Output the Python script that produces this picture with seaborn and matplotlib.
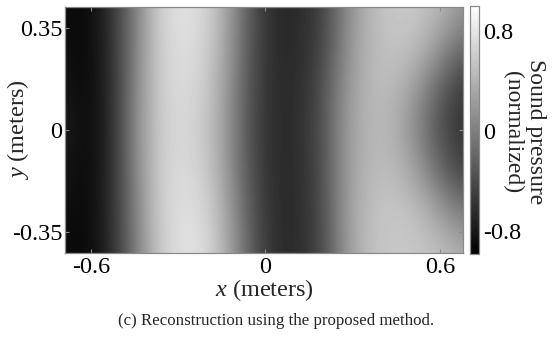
import numpy as np
import matplotlib
matplotlib.use("Agg")
import matplotlib.pyplot as plt
import seaborn as sns

# ---- data ----
x_samples = [-0.690, -0.609, -0.529, -0.448, -0.368, -0.287, -0.206, -0.126, -0.045,
             0.035, 0.116, 0.197, 0.277, 0.358, 0.438, 0.519, 0.599, 0.680]
y_samples = [0.423, 0.282, 0.141, 0.0, -0.141, -0.282, -0.423]

p_y0 = [-0.89, -0.92, -0.60, 0.00, 0.63, 0.78, 0.70, 0.26, -0.36, -0.67,
        -0.65, -0.48, 0.07, 0.45, 0.57, 0.57, 0.45, 0.20]
p_y1 = [-0.87, -0.92, -0.62, 0.02, 0.62, 0.76, 0.66, 0.22, -0.38, -0.66,
        -0.65, -0.45, 0.10, 0.45, 0.54, 0.50, 0.20, -0.17]
p_y2 = [-0.82, -0.92, -0.64, 0.05, 0.61, 0.73, 0.62, 0.18, -0.40, -0.65,
        -0.64, -0.38, 0.18, 0.45, 0.47, 0.22, -0.23, -0.55]
p_y3 = [-0.75, -0.92, -0.65, 0.07, 0.60, 0.70, 0.58, 0.14, -0.42, -0.64,
        -0.64, -0.36, 0.20, 0.45, 0.42, 0.07, -0.36, -0.61]
p_y4 = [-0.82, -0.92, -0.64, 0.05, 0.61, 0.73, 0.62, 0.18, -0.40, -0.65,
        -0.64, -0.38, 0.20, 0.46, 0.48, 0.26, -0.17, -0.48]
p_y5 = [-0.87, -0.92, -0.63, 0.00, 0.60, 0.76, 0.70, 0.26, -0.34, -0.65,
        -0.65, -0.40, 0.22, 0.50, 0.57, 0.51, 0.26, -0.05]
p_y6 = [-0.90, -0.92, -0.65, -0.05, 0.58, 0.78, 0.74, 0.32, -0.30, -0.64,
        -0.64, -0.42, 0.20, 0.51, 0.57, 0.57, 0.51, 0.39]

x_ticks = [-0.6, 0, 0.6]
x_ticklabels = ["-0.6", "0", "0.6"]
y_ticks = [-0.35, 0, 0.35]
y_ticklabels = ["-0.35", "0", "0.35"]
c_ticks = [-0.8, 0, 0.8]
c_ticklabels = ["-0.8", "0", "0.8"]
vmin, vmax = -0.98, 1.0

# ---- style ----
sns.set_theme(style="white")
plt.rcParams["font.family"] = ["Liberation Serif", "DejaVu Serif"]
plt.rcParams["mathtext.fontset"] = "custom"
plt.rcParams["mathtext.rm"] = "Liberation Serif"
plt.rcParams["mathtext.it"] = "Liberation Serif:italic"

W, H = 555, 341
fig = plt.figure(figsize=(W / 100, H / 100), dpi=100)
fig.patch.set_facecolor("white")

ax = fig.add_axes([65 / W, 1 - 253.3 / H, 398 / W, 246.6 / H])
cax = fig.add_axes([470 / W, 1 - 254 / H, 9 / W, 248 / H])

Z = np.array([p_y0, p_y1, p_y2, p_y3, p_y4, p_y5, p_y6])
xs = np.array(x_samples)
ys = np.array(y_samples)
dx = (xs[-1] - xs[0]) / (len(xs) - 1)
dy = (ys[0] - ys[-1]) / (len(ys) - 1)
cmap = sns.color_palette("gray", as_cmap=True)
im = ax.imshow(Z, cmap=cmap, vmin=vmin, vmax=vmax, origin="upper",
               extent=[xs[0] - dx / 2, xs[-1] + dx / 2, ys[-1] - dy / 2, ys[0] + dy / 2],
               interpolation="bicubic", aspect="auto")
ax.set_xlim(xs[0], xs[-1])
ax.set_ylim(ys[-1], ys[0])

TICK_FS = 17.5
ax.set_xticks(x_ticks)
ax.set_xticklabels(x_ticklabels)
ax.set_yticks(y_ticks)
ax.set_yticklabels(y_ticklabels)
frame_col = "#8a8a8a"
ax.tick_params(direction="in", length=3, width=0.8, color=frame_col,
               top=True, right=True, bottom=True, left=True,
               labelsize=TICK_FS, labelcolor="black", pad=2)
ax.tick_params(axis="x", pad=3)
for s in ax.spines.values():
    s.set_color(frame_col)
    s.set_linewidth(0.9)
    s.set_visible(True)

cb = fig.colorbar(im, cax=cax)
cb.set_ticks(c_ticks)
cb.set_ticklabels(c_ticklabels)
cax.tick_params(direction="in", length=3, width=0.8, color=frame_col,
                labelsize=TICK_FS, labelcolor="black", pad=3)
cb.outline.set_edgecolor(frame_col)
cb.outline.set_linewidth(0.9)

fig.text(264 / W, 1 - 290 / H, "$x$ (meters)", ha="center", va="center", fontsize=17.5)
fig.text(18 / W, 1 - 130 / H, "$y$ (meters)", ha="center", va="center",
         rotation=90, fontsize=17.5)
fig.text(524 / W, 1 - 132 / H, "Sound pressure\n(normalized)", ha="center",
         va="center", rotation=-90, fontsize=17, linespacing=1.15, multialignment="center")
fig.text(276 / W, 1 - 321 / H, "(c) Reconstruction using the proposed method.",
         ha="center", va="center", fontsize=12.2)

fig.savefig("out.png", dpi=100)
